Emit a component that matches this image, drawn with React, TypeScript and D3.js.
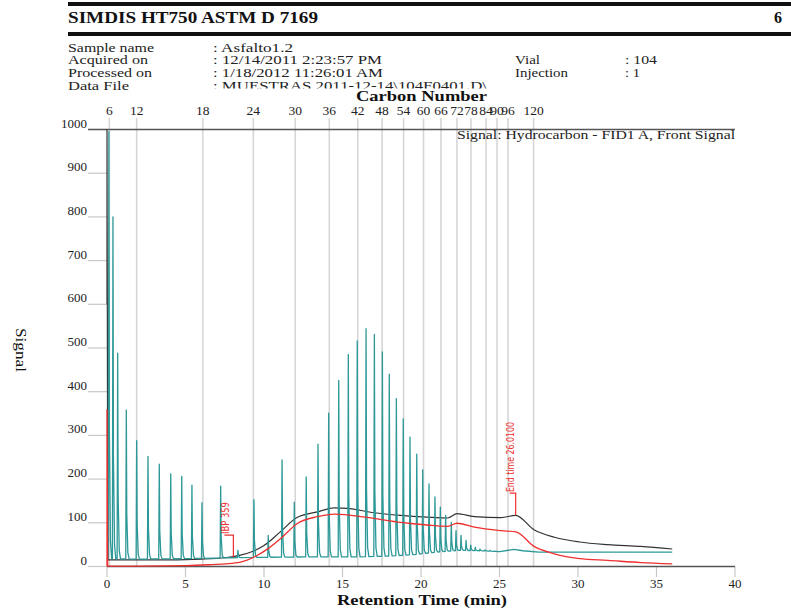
import React from "react";
import * as d3 from "d3";

// ---- data ----
const xTickValues = [0, 5, 10, 15, 20, 25, 30, 35, 40];
const yTickValues = [0, 100, 200, 300, 400, 500, 600, 700, 800, 900, 1000];

const carbonLabels = ["6", "12", "18", "24", "30", "36", "42", "48", "54", "60", "66", "72", "78", "84", "90", "96", "120"];
const carbonTimes = [0.15, 1.89, 6.1, 9.32, 11.99, 14.16, 15.97, 17.52, 18.89, 20.16, 21.27, 22.29, 23.18, 24.14, 24.84, 25.54, 27.17];

// sample chromatogram (teal): peak apex times and heights
const peakTimes = [0.12, 0.38, 0.68, 1.23, 1.89, 2.61, 3.33, 4.06, 4.76, 5.41, 6.05, 7.24, 8.34, 9.36, 10.27, 11.15, 11.93, 12.69, 13.44, 14.12, 14.76, 15.37, 15.94, 16.5, 17.03, 17.54, 17.98, 18.43, 18.87, 19.3, 19.73, 20.11, 20.51, 20.89, 21.23, 21.57, 21.93, 22.23, 22.55, 22.87, 23.17, 23.46, 23.76, 24.08, 24.39, 24.71];
const peakHeights = [995, 800, 488, 358, 288, 252, 234, 212, 206, 186, 146, 184, 37, 153, 71, 244, 147, 205, 280, 351, 426, 485, 516, 544, 531, 491, 440, 384, 338, 296, 257, 221, 189, 159, 136, 117, 101, 82, 71, 60, 49, 44, 40, 38, 37, 35];
// teal baseline
const tealBaseTimes = [0.08, 2, 5, 8, 10, 13, 16, 18, 19.5, 21, 22.5, 23.8, 25, 25.9, 26.5, 27.5, 30, 36];
const tealBaseValues = [18, 17, 18, 20, 21, 22, 22, 24, 27, 33, 37, 36, 34, 39, 36, 33, 33, 33];

// blank / reference trace (black): first two points are the solvent spike
const blackTimes = [0, 0, 0.05, 3, 6, 7.5, 8.5, 9.3, 10, 11, 12.1, 13.4, 14.5, 15.3, 17, 18.7, 20.4, 21.7, 22.3, 23.4, 25.1, 26.03, 27.2, 28.5, 30.1, 31.9, 34, 36];
const blackValues = [600, 1010, 15, 15, 17, 20, 26, 35, 48, 78, 112, 125, 134, 133, 123, 117, 113, 111, 121, 114, 112, 117, 84, 67, 56, 50, 46, 40];

// subtracted trace (red): first two points are the solvent spike
const redTimes = [0, 0, 0.04, 2, 5, 6.5, 7.5, 8.5, 9.5, 10.3, 11.1, 12.1, 13.4, 14.5, 15.3, 17, 18.7, 20.4, 21.7, 22.3, 23.4, 25.1, 26.05, 27.2, 28.5, 30.1, 31.9, 34, 36];
const redValues = [0, 360, 1, 1, 2, 4, 6, 10, 24, 42, 65, 98, 114, 120, 118, 110, 101, 95, 92, 99, 90, 82, 79, 46, 29, 18, 14, 9, 6];

// markers
const ibpTime = 8.05;
const ibpBase = 21;
const ibpTop = 72;
const endTime = 26.03;
const endBase = 117;
const endTop = 168;

const W = 791;
const H = 610;
const serif = "'Liberation Serif', 'Times New Roman', serif";
const narrow = "'DejaVu Sans Condensed', 'Liberation Sans', sans-serif";

export default function App() {
  const x = d3.scaleLinear().domain([0, 40]).range([107, 735]);
  const y = d3.scaleLinear().domain([0, 1000]).range([566.5, 129.5]);

  const tealBase = d3.scaleLinear().domain(tealBaseTimes).range(tealBaseValues).clamp(true);

  // build teal points: baseline + narrow peaks
  const tealPts: [number, number][] = [];
  tealBaseTimes.forEach((t, i) => {
    if (!peakTimes.some((p) => t > p - 0.035 && t < p + 0.18)) tealPts.push([t, tealBaseValues[i]]);
  });
  peakTimes.forEach((t, i) => {
    const h = peakHeights[i];
    const bm = tealBase(t);
    tealPts.push([t - 0.035, tealBase(t - 0.035)]);
    tealPts.push([t, h]);
    tealPts.push([t + 0.03, bm + 0.3 * (h - bm)]);
    tealPts.push([t + 0.1, bm + 0.04 * (h - bm)]);
    tealPts.push([t + 0.18, tealBase(t + 0.18)]);
  });
  tealPts.sort((a, b) => a[0] - b[0]);

  const line = d3
    .line<[number, number]>()
    .x((d) => x(d[0]))
    .y((d) => y(d[1]));
  const smooth = d3
    .line<[number, number]>()
    .x((d) => x(d[0]))
    .y((d) => y(d[1]))
    .curve(d3.curveMonotoneX);

  const blackPts: [number, number][] = blackTimes.map((t, i) => [t, blackValues[i]]);
  const redPts: [number, number][] = redTimes.map((t, i) => [t, redValues[i]]);

  const tealColor = "#2c9898";
  const redColor = "#ee3030";

  const infoLeft = [
    { label: "Sample name", lw: 86, value: ": Asfalto1.2", vw: 80, yb: 51.5 },
    { label: "Acquired on", lw: 80, value: ": 12/14/2011 2:23:57 PM", vw: 169, yb: 64 },
    { label: "Processed on", lw: 84, value: ": 1/18/2012 11:26:01 AM", vw: 170, yb: 76.5 },
    { label: "Data File", lw: 61, value: ": MUESTRAS 2011-12-14\\104F0401.D\\", vw: 274, yb: 90 },
  ];
  const infoRight = [
    { label: "Vial", lw: 25, value: ": 104", vw: 32, yb: 64 },
    { label: "Injection", lw: 53, value: ": 1", vw: 15, yb: 76.5 },
  ];

  return (
    <svg
      width={W}
      height={H}
      style={{ position: "absolute", left: 0, top: 0, background: "#fff" }}
      fontFamily={serif}
    >
      <defs>
        <clipPath id="plotClip">
          <rect x={100} y={129.5} width={640} height={440} />
        </clipPath>
      </defs>
      <rect x={0} y={0} width={W} height={H} fill="#fff" />

      {/* header */}
      <rect x={68} y={2} width={W - 68} height={4} fill="#111" />
      <text x={68} y={23} fontSize={16.5} fontWeight="bold" fill="#111" textLength={250} lengthAdjust="spacingAndGlyphs">
        SIMDIS HT750 ASTM D 7169
      </text>
      <text x={782} y={23} fontSize={16} fontWeight="bold" fill="#111" textAnchor="end">
        6
      </text>
      <rect x={68} y={32} width={W - 68} height={4} fill="#111" />

      {infoLeft.map((r) => (
        <g key={r.label}>
          <text x={68} y={r.yb} fontSize={12.5} fill="#222" textLength={r.lw} lengthAdjust="spacingAndGlyphs">
            {r.label}
          </text>
          <text x={213} y={r.yb} fontSize={12.5} fill="#222" textLength={r.vw} lengthAdjust="spacingAndGlyphs">
            {r.value}
          </text>
        </g>
      ))}
      {infoRight.map((r) => (
        <g key={r.label}>
          <text x={515} y={r.yb} fontSize={12.5} fill="#222" textLength={r.lw} lengthAdjust="spacingAndGlyphs">
            {r.label}
          </text>
          <text x={625} y={r.yb} fontSize={12.5} fill="#222" textLength={r.vw} lengthAdjust="spacingAndGlyphs">
            {r.value}
          </text>
        </g>
      ))}
      {/* mask lower part of the data file line, as in the report */}
      <rect x={200} y={88.5} width={300} height={6} fill="#fff" />

      {/* carbon number axis */}
      <text x={356} y={101} fontSize={15} fontWeight="bold" fill="#111" textLength={131} lengthAdjust="spacingAndGlyphs">
        Carbon Number
      </text>
      {carbonTimes.map((t, i) => (
        <g key={"c" + i}>
          <line x1={x(t)} x2={x(t)} y1={118} y2={566.5} stroke="#d6d6d6" strokeWidth={1.6} />
          <text x={x(t)} y={115} fontSize={13.5} textAnchor="middle" fill="#222">
            {carbonLabels[i]}
          </text>
        </g>
      ))}

      {/* y axis ticks */}
      {yTickValues.map((v) => (
        <g key={"y" + v}>
          <line x1={88} x2={107} y1={y(v)} y2={y(v)} stroke="#c8c8c8" strokeWidth={1.2} />
          <text x={87} y={y(v) - 2} fontSize={13} textAnchor="end" fill="#222">
            {v}
          </text>
        </g>
      ))}
      {/* x axis ticks */}
      {xTickValues.map((v) => (
        <g key={"x" + v}>
          <line x1={x(v)} x2={x(v)} y1={566.5} y2={577} stroke="#c8c8c8" strokeWidth={1.2} />
          <text x={x(v)} y={588} fontSize={13} textAnchor="middle" fill="#222">
            {v}
          </text>
        </g>
      ))}

      {/* frame */}
      <line x1={88} x2={735} y1={129.5} y2={129.5} stroke="#555" strokeWidth={1.4} />
      <line x1={107} x2={735} y1={566.5} y2={566.5} stroke="#555" strokeWidth={1.4} />

      <text x={457} y={138.5} fontSize={13} fill="#222" textLength={278} lengthAdjust="spacingAndGlyphs">
        Signal: Hydrocarbon - FID1 A, Front Signal
      </text>

      {/* traces */}
      <g clipPath="url(#plotClip)">
        <path d={line(blackPts.slice(0, 3)) || ""} fill="none" stroke="#333" strokeWidth={1.2} />
        <path d={smooth(blackPts.slice(2)) || ""} fill="none" stroke="#333" strokeWidth={1.2} />
        <path d={line(tealPts) || ""} fill="none" stroke={tealColor} strokeWidth={1.3} strokeLinejoin="round" />
        <path d={line(redPts.slice(0, 3)) || ""} fill="none" stroke={redColor} strokeWidth={1.3} />
        <path d={smooth(redPts.slice(2)) || ""} fill="none" stroke={redColor} strokeWidth={1.3} />
      </g>

      {/* IBP marker */}
      <path
        d={`M${x(ibpTime)},${y(ibpBase)}V${y(ibpTop)}H${x(ibpTime) - 9}`}
        fill="none"
        stroke={redColor}
        strokeWidth={1.2}
      />
      <text
        transform={`translate(${x(ibpTime) - 4},${y(ibpTop) - 1}) rotate(-90)`}
        fontSize={11}
        fontFamily={narrow}
        fill={redColor}
        textLength={32}
        lengthAdjust="spacingAndGlyphs"
      >
        IBP 359
      </text>

      {/* End time marker */}
      <path
        d={`M${x(endTime)},${y(endBase)}V${y(endTop)}H${x(endTime) - 6}`}
        fill="none"
        stroke={redColor}
        strokeWidth={1.2}
      />
      <text
        transform={`translate(${x(endTime) - 1.5},${y(endTop) - 1}) rotate(-90)`}
        fontSize={11}
        fontFamily={narrow}
        fill={redColor}
        textLength={70}
        lengthAdjust="spacingAndGlyphs"
      >
        End time 26.0100
      </text>

      {/* axis titles */}
      <text x={337} y={605} fontSize={15.5} fontWeight="bold" fill="#111" textLength={170} lengthAdjust="spacingAndGlyphs">
        Retention Time (min)
      </text>
      <text transform="translate(16,328) rotate(90)" fontSize={15} fill="#111" textLength={44} lengthAdjust="spacingAndGlyphs">
        Signal
      </text>
    </svg>
  );
}
